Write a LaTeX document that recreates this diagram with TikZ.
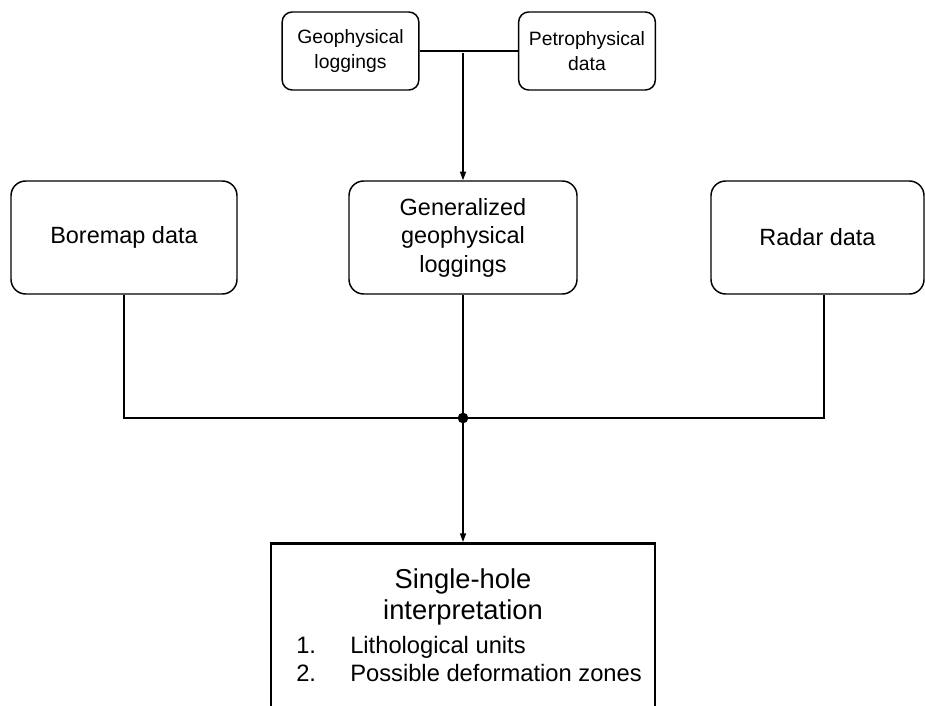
\documentclass[tikz,border=0pt]{standalone}
\usepackage{fontspec}
\setmainfont{Liberation Sans}
\usetikzlibrary{arrows.meta}

\tikzset{
  smallbox/.style={draw, rounded corners=7.5pt, line width=1.1pt, align=center,
    minimum width=102.5pt, minimum height=58.5pt, inner sep=0pt,
    font=\fontsize{14.5pt}{18.75pt}\selectfont},
  databox/.style={draw, rounded corners=11pt, line width=1.1pt, align=center,
    minimum height=84.75pt, inner sep=0pt,
    font=\fontsize{17.6pt}{21.4pt}\selectfont},
  resultbox/.style={draw, line width=2.2pt, minimum width=288pt, minimum height=150pt,
    inner sep=0pt},
  link/.style={line width=1.1pt},
  arrowlink/.style={line width=1.1pt, -{Triangle[length=6.5pt,width=4.5pt]}}
}

\begin{document}
\begin{tikzpicture}[x=0.75pt,y=-0.75pt]
\clip (0,0) rectangle (925,706);
% input data
\node[smallbox] (geo) at (350.5,51) {Geophysical\\loggings};
\node[smallbox] (petro) at (587,51) {Petrophysical\\data};
\node[databox, minimum width=169.5pt] (bore) at (124,237.5) {Boremap data};
\node[databox, minimum width=171pt] (gen) at (463,237.5) {Generalized\\geophysical\\loggings};
\node[databox, minimum width=159.75pt] (radar) at (817.5,237.5) {Radar data};
% result
\node[resultbox, anchor=north] (interp) at (463,542) {};
\node[align=center, inner sep=0pt, font=\fontsize{20.5pt}{23.3pt}\selectfont] (interptitle) at (463,596.5) {Single-hole\\interpretation};
\node[align=left, anchor=west, inner sep=0pt, font=\fontsize{17.8pt}{21pt}\selectfont] (interplist) at (296,659)
  {\makebox[40.5pt][l]{1.}Lithological units\\\makebox[40.5pt][l]{2.}Possible deformation zones};
\coordinate (top) at (463,53);
\coordinate (join) at (463,418);
% connectors
\draw[link] (geo.east) -- (petro.west);
\draw[arrowlink] (top) -- (gen.north);
\draw[link] (bore.south) |- (join);
\draw[link] ([xshift=4.9pt]radar.south) |- (join);
\draw[link] (gen.south) -- (join);
\fill (join) circle (4pt);
\draw[arrowlink] (join) -- (interp.north);
\end{tikzpicture}
\end{document}
